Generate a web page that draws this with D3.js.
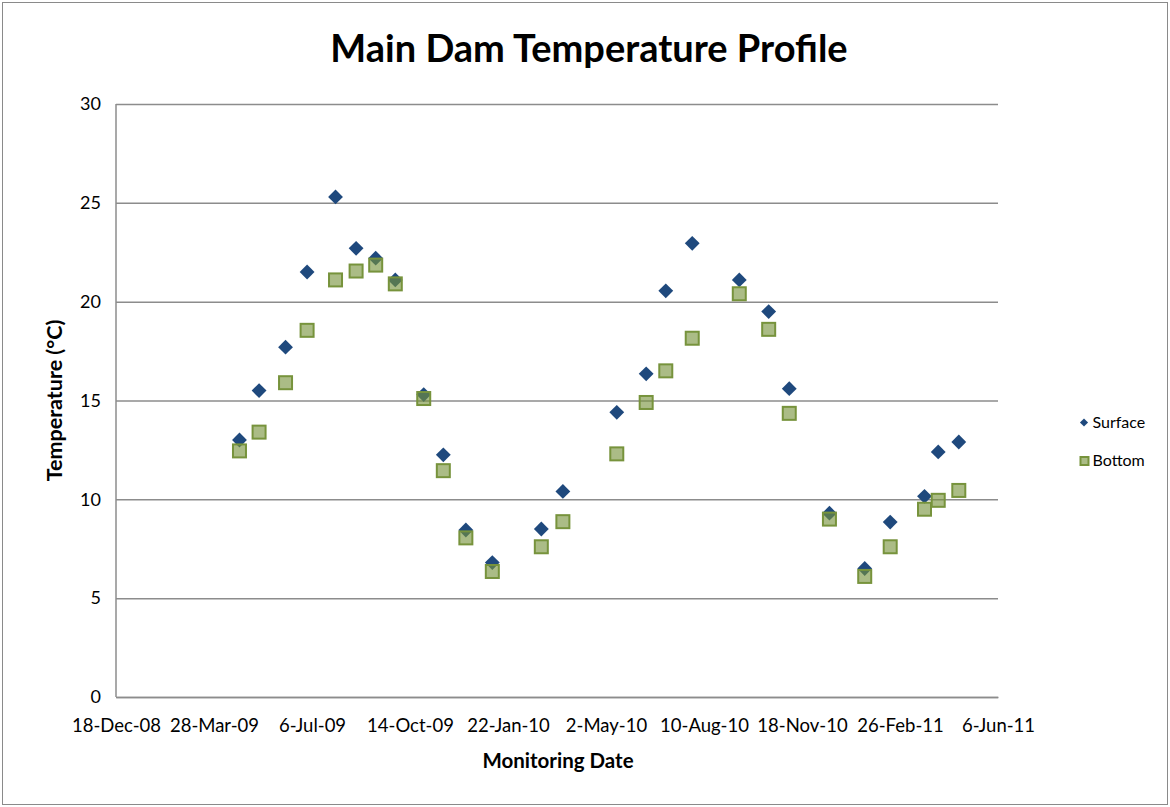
<!DOCTYPE html>
<html>
<head>
<meta charset="utf-8">
<script src="https://cdn.jsdelivr.net/npm/d3@7"></script>
<style>
  body { margin: 0; background: #fff; }
  svg { display: block; font-family: Lato, "Open Sans", sans-serif; }
</style>
</head>
<body>
<svg id="chart"></svg>
<script>
// sampling dates
var dates = [
    "2009-04-23", "2009-05-13", "2009-06-09", "2009-07-01", "2009-07-30"
  , "2009-08-20", "2009-09-09", "2009-09-29", "2009-10-28", "2009-11-17"
  , "2009-12-10", "2010-01-06", "2010-02-25", "2010-03-19", "2010-05-13"
  , "2010-06-12", "2010-07-02", "2010-07-29", "2010-09-15", "2010-10-15"
  , "2010-11-05", "2010-12-16", "2011-01-21", "2011-02-16", "2011-03-23"
  , "2011-04-06", "2011-04-27"
];
var surface = [
    13.0, 15.5, 17.7, 21.5, 25.3
  , 22.7, 22.2, 21.1, 15.3, 12.25
  , 8.45, 6.8, 8.5, 10.4, 14.4
  , 16.35, 20.55, 22.95, 21.1, 19.5
  , 15.6, 9.3, 6.5, 8.85, 10.15
  , 12.4, 12.9
];
var bottom = [
    12.45, 13.4, 15.9, 18.55, 21.1
  , 21.55, 21.85, 20.9, 15.1, 11.45
  , 8.05, 6.35, 7.6, 8.87, 12.3
  , 14.9, 16.5, 18.15, 20.4, 18.6
  , 14.35, 9.0, 6.1, 7.6, 9.5
  , 9.95, 10.45
];
var seriesNames = ["Surface", "Bottom"];
var yTicks = [0, 5, 10, 15, 20, 25, 30];
var xStart = "2008-12-18", xEnd = "2011-06-06", xStepDays = 100;

var width = 1170
  , height = 807
  , margin = { top: 104, left: 116, right: 172, bottom: 110 }
  , parse = d3.utcParse("%Y-%m-%d")
  , fmt = d3.utcFormat("%-d-%b-%y")
  , svg = d3.select("#chart").attr("width", width).attr("height", height)
;

var x = d3.scaleUtc()
    .domain([parse(xStart), parse(xEnd)])
    .range([margin.left, width - margin.right])
;
var y = d3.scaleLinear()
    .domain([0, 30])
    .range([height - margin.bottom, margin.top])
;
var xTicks = d3.utcDay.range(parse(xStart), d3.utcDay.offset(parse(xEnd), 1))
    .filter(function(d, i) { return i % xStepDays === 0; })
;

// outer frame
svg.append("rect")
    .attr("x", 2.5).attr("y", 2.5)
    .attr("width", width - 5).attr("height", height - 5)
    .attr("fill", "none").attr("stroke", "#8a8a8a").attr("stroke-width", 1)
;

// gridlines + y axis
var yAxis = svg.append("g")
    .attr("transform", "translate(" + margin.left + ",0)")
    .call(d3.axisLeft(y).tickValues(yTicks).tickSize(-(width - margin.left - margin.right)).tickPadding(15))
;
yAxis.select(".domain").remove();
yAxis.selectAll(".tick line").attr("stroke", "#8c8c8c").attr("stroke-width", 1.5);
yAxis.selectAll(".tick text")
    .attr("font-size", 18).attr("fill", "#000")
    .attr("font-family", "Lato, sans-serif")
;

svg.append("line")
    .attr("x1", margin.left).attr("x2", margin.left)
    .attr("y1", y(30)).attr("y2", y(0))
    .attr("stroke", "#8c8c8c").attr("stroke-width", 1.5)
;

// x axis (no tick marks, only labels)
var xAxis = svg.append("g")
    .attr("transform", "translate(0," + y(0) + ")")
    .call(d3.axisBottom(x).tickValues(xTicks).tickFormat(fmt).tickSize(0).tickPadding(22))
;
xAxis.select(".domain").attr("stroke", "#8c8c8c").attr("stroke-width", 1.5);
xAxis.selectAll(".tick text")
    .attr("font-size", 18.5).attr("fill", "#000")
    .attr("font-family", "Lato, sans-serif")
;

// titles
svg.append("text")
    .attr("x", 589).attr("y", 62)
    .attr("text-anchor", "middle")
    .attr("font-size", 38).attr("font-weight", "bold")
    .text("Main Dam Temperature Profile")
;
svg.append("text")
    .attr("x", 558).attr("y", 768)
    .attr("text-anchor", "middle")
    .attr("font-size", 20.5).attr("font-weight", "bold")
    .text("Monitoring Date")
;
svg.append("text")
    .attr("transform", "translate(62," + y(15) + ") rotate(-90)")
    .attr("text-anchor", "middle")
    .attr("font-size", 21.5).attr("font-weight", "bold")
    .text("Temperature (°C)")
;

// marks
var diamond = d3.symbol().type(d3.symbolDiamond2).size(140)
  , pts = dates.map(function(d, i) { return { date: parse(d), s: surface[i], b: bottom[i] }; })
;
svg.append("g").selectAll("path")
    .data(pts)
  .enter().append("path")
    .attr("d", diamond)
    .attr("transform", function(d) { return "translate(" + x(d.date) + "," + y(d.s) + ")"; })
    .attr("fill", "#1f497d")
;
svg.append("g").selectAll("rect")
    .data(pts)
  .enter().append("rect")
    .attr("x", function(d) { return x(d.date) - 6.5; })
    .attr("y", function(d) { return y(d.b) - 6.5; })
    .attr("width", 13).attr("height", 13)
    .attr("fill", "rgba(119,147,60,0.62)")
    .attr("stroke", "#77933c").attr("stroke-width", 2)
;

// legend
var legend = svg.append("g")
    .attr("transform", "translate(1084,0)")
;
legend.append("path")
    .attr("d", d3.symbol().type(d3.symbolDiamond2).size(42))
    .attr("transform", "translate(0,422.5)")
    .attr("fill", "#1f497d")
;
legend.append("rect")
    .attr("x", -3.5).attr("y", 457).attr("width", 8).attr("height", 8)
    .attr("fill", "rgba(119,147,60,0.62)")
    .attr("stroke", "#77933c").attr("stroke-width", 2)
;
legend.selectAll("text")
    .data(seriesNames)
  .enter().append("text")
    .attr("x", 8.5)
    .attr("y", function(d, i) { return 422.5 + i * 38; })
    .attr("dy", "0.35em")
    .attr("font-size", 16)
    .text(function(d) { return d; })
;
</script>
</body>
</html>
